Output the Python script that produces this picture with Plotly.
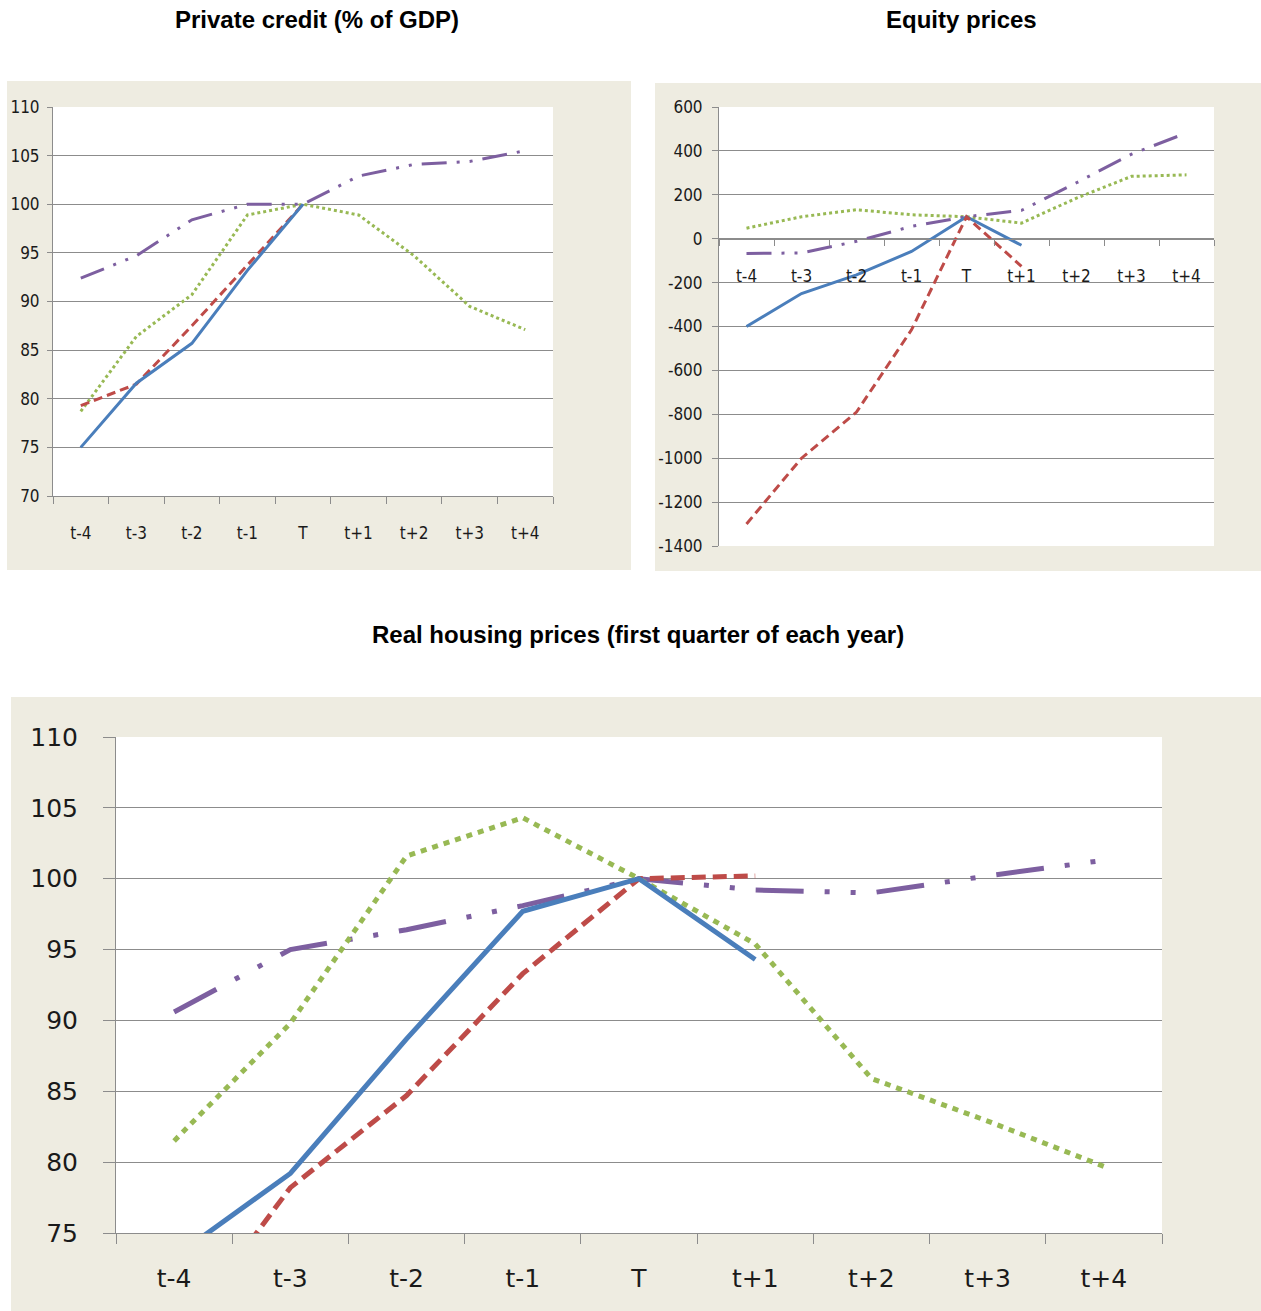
import plotly.graph_objects as go

# ---- data -----------------------------------------------------------------
periods = ["t-4", "t-3", "t-2", "t-1", "T", "t+1", "t+2", "t+3", "t+4"]

# Private credit (% of GDP)
credit_blue = [75.0, 81.6, 85.7, 93.2, 100.0, None, None, None, None]
credit_red = [79.3, 81.5, 87.5, 93.8, 100.0, None, None, None, None]
credit_green = [78.7, 86.4, 90.7, 98.9, 100.0, 98.9, 94.7, 89.5, 87.1]
credit_purple = [92.4, 94.7, 98.4, 100.0, 100.0, 102.9, 104.1, 104.4, 105.5]

# Equity prices
equity_blue = [-400, -250, -165, -58, 100, -30, None, None, None]
equity_red = [-1300, -1000, -790, -415, 100, -126, None, None, None]
equity_green = [48, 100, 132, 109, 100, 71, 185, 284, 291]
equity_purple = [-67, -65, -12, 56, 100, 129, 255, 385, 482]
equity_ticks = [600, 400, 200, 0, -200, -400, -600, -800, -1000, -1200, -1400]
equity_ticklabels = ["600", "400", "200", "0", "-200", "-400", "-600", "-800",
                     "-1000", "-1200", "-1400"]

# Real housing prices (first quarter of each year)
housing_blue = [73.3, 79.2, 88.7, 97.7, 100.0, 94.3, None, None, None]
housing_red = [67.2, 78.2, 84.7, 93.3, 100.0, 100.2, None, None, None]
housing_green = [81.5, 89.8, 101.6, 104.3, 100.0, 95.4, 85.9, 82.9, 79.7]
housing_purple = [90.6, 95.0, 96.4, 98.1, 100.0, 99.2, 99.0, 100.2, 101.3]

# ---- styling --------------------------------------------------------------
W, H = 1261, 1311
BLUE, RED, GREEN, PURPLE = "#4A7EBB", "#BE4B48", "#98B954", "#7D5FA0"
BEIGE = "#EEECE1"
GRID = "#8C8C8C"
NARROW = "Liberation Sans Narrow, Arial Narrow, DejaVu Sans Condensed, sans-serif"
WIDE = "DejaVu Sans, Verdana, sans-serif"
TITLE = "Liberation Sans, Arial, sans-serif"


def fx(px):
    return px / W


def fy(py):
    return 1 - py / H


small = dict(width=3, solid="solid", dash="9px,5px", dot="3px,3px",
             dashdotdot="25px,10px,3px,10px,3px,10px")
large = dict(width=5, solid="solid", dash="14px,7px", dot="6px,6px",
             dashdotdot="48px,21px,5px,21px,5px,21px")

fig = go.Figure()


def add_panel(xa, ya, series, st):
    for values, color, kind in series:
        fig.add_trace(go.Scatter(
            x=periods, y=values, mode="lines", xaxis=xa, yaxis=ya,
            line=dict(color=color, width=st["width"], dash=st[kind]),
            connectgaps=False, showlegend=False, hoverinfo="skip"))


add_panel("x", "y", [
    (credit_green, GREEN, "dot"),
    (credit_purple, PURPLE, "dashdotdot"),
    (credit_red, RED, "dash"),
    (credit_blue, BLUE, "solid"),
], small)

add_panel("x2", "y2", [
    (equity_green, GREEN, "dot"),
    (equity_purple, PURPLE, "dashdotdot"),
    (equity_blue, BLUE, "solid"),
    (equity_red, RED, "dash"),
], small)

add_panel("x3", "y3", [
    (housing_purple, PURPLE, "dashdotdot"),
    (housing_green, GREEN, "dot"),
    (housing_red, RED, "dash"),
    (housing_blue, BLUE, "solid"),
], large)

# panel frames: beige chart areas and white plot areas
shapes = []
for x0, y0, x1, y1 in [(7, 81, 631, 570), (655, 83, 1261, 571), (11, 697, 1261, 1311)]:
    shapes.append(dict(type="rect", xref="paper", yref="paper",
                       x0=fx(x0), x1=fx(x1), y0=fy(y1), y1=fy(y0),
                       fillcolor=BEIGE, line=dict(width=0), layer="below"))
for ax in ["", "2", "3"]:
    shapes.append(dict(type="rect", xref=f"x{ax} domain", yref=f"y{ax} domain",
                       x0=0, x1=1, y0=0, y1=1, fillcolor="white",
                       line=dict(width=0), layer="below"))

# equity x axis sits on the zero line
y2_dom = [fy(546), fy(107)]
y2_rng = [-1400, 600]
zero_pos = y2_dom[0] + (0 - y2_rng[0]) / (y2_rng[1] - y2_rng[0]) * (y2_dom[1] - y2_dom[0])


def xcat(domain, font, ticklen, standoff, **kw):
    d = dict(domain=domain, type="category", range=[-0.5, 8.5],
             tickson="boundaries", ticks="outside", ticklen=ticklen,
             tickcolor=GRID, showline=True, linecolor=GRID, linewidth=1,
             showgrid=False, zeroline=False, tickfont=font, automargin=False,
             ticklabelstandoff=standoff, fixedrange=True)
    d.update(kw)
    return d


def yval(domain, rng, font, ticklen, standoff, **kw):
    d = dict(domain=domain, range=rng, ticks="outside", ticklen=ticklen,
             tickcolor=GRID, showline=True, linecolor=GRID, linewidth=1,
             showgrid=True, gridcolor=GRID, gridwidth=1, zeroline=False,
             tickfont=font, ticklabelstandoff=standoff, automargin=False,
             fixedrange=True)
    d.update(kw)
    return d


f_narrow = dict(family=NARROW, size=17, color="#1a1a1a")
f_wide = dict(family=WIDE, size=25, color="#1a1a1a")
f_title = dict(family=TITLE, size=24, color="black")

fig.update_layout(
    width=W, height=H, autosize=False,
    margin=dict(l=0, r=0, t=0, b=0, pad=0),
    paper_bgcolor="white", plot_bgcolor="white",
    xaxis=xcat([fx(53), fx(553)], f_narrow, 7, 22, anchor="y"),
    yaxis=yval([fy(496), fy(107)], [70, 110], f_narrow, 5, 4,
               dtick=5, tick0=70, anchor="x"),
    xaxis2=xcat([fx(719), fx(1214)], f_narrow, 6, 22, anchor="free",
                position=zero_pos),
    yaxis2=yval(y2_dom, y2_rng, f_narrow, 6, 6, anchor="x2",
                tickmode="array", tickvals=equity_ticks,
                ticktext=equity_ticklabels),
    xaxis3=xcat([fx(116), fx(1162)], f_wide, 10, 23, anchor="y3"),
    yaxis3=yval([fy(1233), fy(737)], [75, 110], f_wide, 12, 20,
                dtick=5, tick0=75, anchor="x3"),
    shapes=shapes,
    annotations=[
        dict(text="<b>Private credit (% of GDP)</b>", x=fx(317), y=fy(20),
             xref="paper", yref="paper", showarrow=False,
             xanchor="center", yanchor="middle", font=f_title),
        dict(text="<b>Equity prices</b>", x=fx(961), y=fy(20),
             xref="paper", yref="paper", showarrow=False,
             xanchor="center", yanchor="middle", font=f_title),
        dict(text="<b>Real housing prices (first quarter of each year)</b>",
             x=fx(638), y=fy(634), xref="paper", yref="paper", showarrow=False,
             xanchor="center", yanchor="middle", font=f_title),
    ],
)

fig.write_html("out.html")
